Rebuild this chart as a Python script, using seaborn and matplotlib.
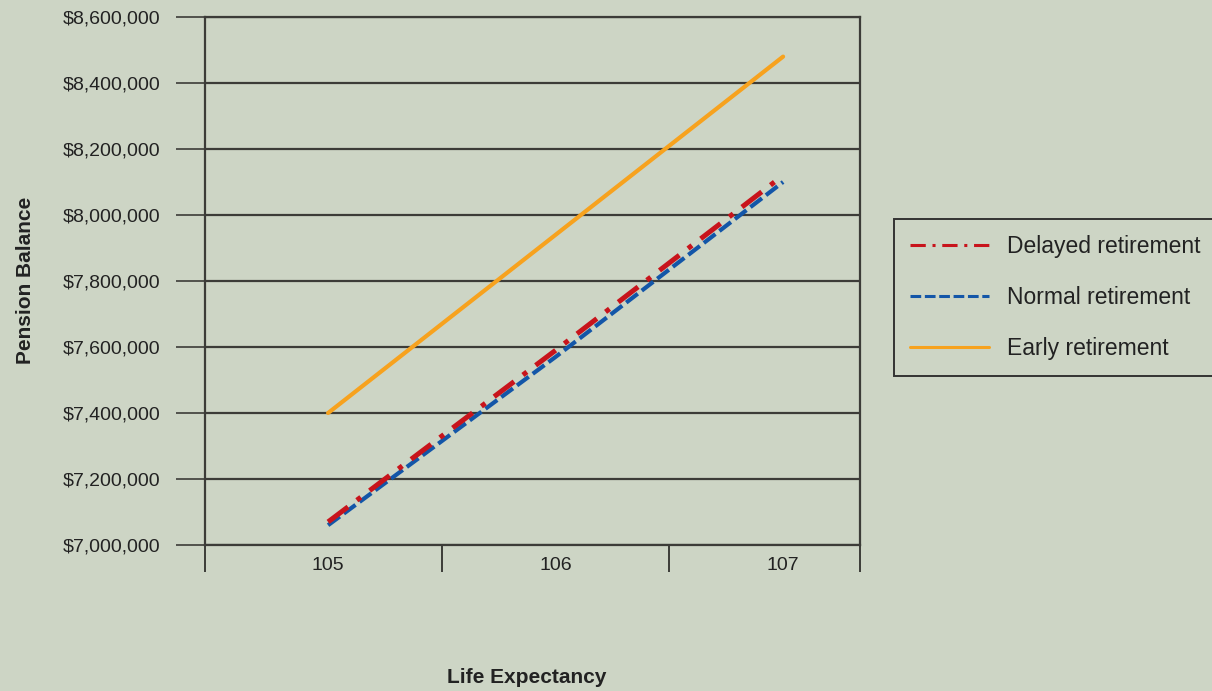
import matplotlib
matplotlib.use("Agg")
import matplotlib.pyplot as plt
import matplotlib.ticker as mticker
from matplotlib.lines import Line2D
import seaborn as sns
import pandas as pd

life_expectancy = [105, 106, 107]
delayed = [7070000, 7590000, 8120000]
normal = [7060000, 7570000, 8100000]
early = [7400000, 7940000, 8480000]
series_names = ["Delayed retirement", "Normal retirement", "Early retirement"]
y_ticks = [7000000, 7200000, 7400000, 7600000, 7800000, 8000000, 8200000, 8400000, 8600000]

df = pd.DataFrame({
    "Life Expectancy": life_expectancy * 3,
    "Pension Balance": delayed + normal + early,
    "Series": [series_names[0]] * 3 + [series_names[1]] * 3 + [series_names[2]] * 3,
})

bg = "#cdd5c5"
sns.set_theme(style="white")
plt.rcParams["font.family"] = ["Liberation Sans Narrow", "Liberation Sans", "DejaVu Sans"]

fig = plt.figure(figsize=(12.12, 6.91), dpi=100, facecolor=bg)
ax = fig.add_axes([205 / 1212, 1 - 545 / 691, (860 - 205) / 1212, (545 - 17) / 691])
ax.set_facecolor(bg)

colors = {"Delayed retirement": "#c8141c", "Normal retirement": "#1356a8", "Early retirement": "#f7a21e"}
styles = {
    "Delayed retirement": dict(linestyle=(0, (5, 2.2, 1, 2.2)), linewidth=3.6),
    "Normal retirement": dict(linestyle=(0, (3.5, 1.2)), linewidth=3.0),
    "Early retirement": dict(linestyle="-", linewidth=3.0),
}
for name in ["Early retirement", "Normal retirement", "Delayed retirement"]:
    sub = df[df["Series"] == name]
    sns.lineplot(data=sub, x="Life Expectancy", y="Pension Balance", ax=ax,
                 color=colors[name], legend=False, zorder=3, **styles[name])

xl = (104.459, 107.338)
ax.set_xlim(*xl)
ax.set_ylim(y_ticks[0], y_ticks[-1])
ax.set_yticks(y_ticks)
ax.yaxis.set_major_formatter(mticker.FuncFormatter(lambda v, p: "${:,.0f}".format(v)))
ax.set_xticks(life_expectancy)
ax.set_xticklabels([str(v) for v in life_expectancy])
ax.set_xticks([xl[0], 105.5, 106.5, xl[1]], minor=True)

gridc = "#3c3c38"
txtc = "#222222"
ax.grid(axis="y", color=gridc, linewidth=1.6)
ax.grid(axis="x", visible=False)
ax.tick_params(axis="y", which="major", direction="out", length=21, width=1.2, color=gridc,
               pad=11, labelsize=14, labelcolor=txtc, left=True)
ax.tick_params(axis="x", which="major", length=0, pad=9, labelsize=14, labelcolor=txtc)
ax.tick_params(axis="x", which="minor", direction="out", length=19.5, width=1.4, color=gridc, bottom=True)

for s in ["left", "right", "top", "bottom"]:
    ax.spines[s].set_visible(True)
    ax.spines[s].set_color(gridc)
    ax.spines[s].set_linewidth(1.6)

ax.set_xlabel("Life Expectancy", fontsize=15, fontweight="bold", color=txtc)
ax.set_ylabel("Pension Balance", fontsize=15, fontweight="bold", color=txtc)
ax.xaxis.set_label_coords((527 - 205) / (860 - 205), -(668 - 545) / (545 - 17))
ax.yaxis.set_label_coords(-(205 - 35) / (860 - 205), (545 - 280) / (545 - 17))

handles = [Line2D([0], [0], color=colors[n], **styles[n]) for n in series_names]
for h in handles:
    h.set_linewidth(2.2)
leg = fig.legend(handles, series_names, loc="upper left", bbox_to_anchor=(894 / 1212, 1 - 219 / 691),
                 frameon=True, fancybox=False, edgecolor="#333333", facecolor=bg, framealpha=1,
                 fontsize=16.5, handlelength=3.45, handletextpad=0.8, labelspacing=1.22,
                 borderpad=0.7, borderaxespad=0)
leg.get_frame().set_linewidth(1.4)
for t in leg.get_texts():
    t.set_color(txtc)

fig.savefig("out.png", dpi=100, facecolor=bg)
